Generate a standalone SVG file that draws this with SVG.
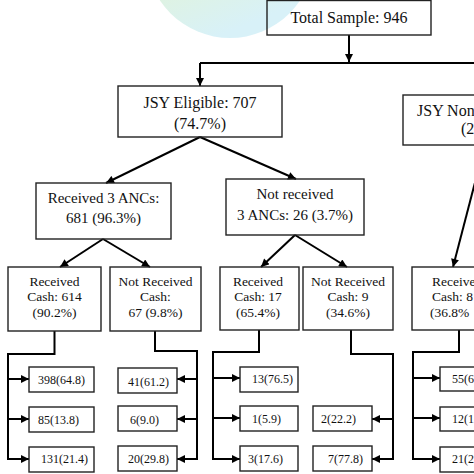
<svg xmlns="http://www.w3.org/2000/svg" width="474" height="474" viewBox="0 0 474 474" font-family="'Liberation Serif', 'DejaVu Serif', serif">
<defs>
<linearGradient id="blob" x1="0" y1="0" x2="0.4" y2="1">
<stop offset="0" stop-color="#f1f8d2"/>
<stop offset="0.5" stop-color="#e2f4d6"/>
<stop offset="1" stop-color="#d8f1f8"/>
</linearGradient>
<marker id="ah" viewBox="0 0 10 10" refX="10" refY="5" markerWidth="9" markerHeight="8" markerUnits="userSpaceOnUse" orient="auto">
<path d="M0,0 L10,5 L0,10 z" fill="#000"/>
</marker>
</defs>
<style>
.box{fill:none;stroke:#222;stroke-width:1.4}
.c{fill:none;stroke:#000;stroke-width:2}
.a{marker-end:url(#ah)}
text{font-family:'Liberation Serif','DejaVu Serif',serif;fill:#111}
.t1{font-size:16px;text-anchor:middle}
.t2{font-size:15px;text-anchor:middle}
.t3{font-size:13.5px;text-anchor:middle}
.t3s{font-size:13.5px}
.t4{font-size:12px}
</style>
<rect width="474" height="474" fill="#fff"/>
<circle cx="230" cy="-46" r="84" fill="url(#blob)"/>

<g id="connectors">
<path class="c a" d="M349,35 V62"/>
<path class="c" d="M200,63 H474"/>
<path class="c a" d="M200,63 V86"/>
<path class="c a" d="M200,137 L106,183"/>
<path class="c a" d="M200,137 L296,179"/>
<path class="c a" d="M103,239 L60,267"/>
<path class="c a" d="M103,239 L150,267"/>
<path class="c a" d="M295,235 L261,267"/>
<path class="c a" d="M295,235 L347,267"/>
<path class="c a" d="M486,140 L453,267"/>
<path class="c a" d="M54.5,331 V354 H8 V459 H29"/>
<path class="c a" d="M8,379 H29"/>
<path class="c a" d="M8,419 H29"/>
<path class="c a" d="M155,331 V351 H197 V459 H177"/>
<path class="c a" d="M197,379 H177"/>
<path class="c a" d="M197,419 H177"/>
<path class="c a" d="M259,330 V352 H213 V459 H240"/>
<path class="c a" d="M213,378 H240"/>
<path class="c a" d="M213,418 H240"/>
<path class="c a" d="M351,330 V354 H393 V459 H372"/>
<path class="c a" d="M393,419 H372"/>
<path class="c a" d="M459,330 V352 H413 V459 H440"/>
<path class="c a" d="M413,378 H440"/>
<path class="c a" d="M413,418 H440"/>
</g>

<g id="total"><rect class="box" x="267" y="0.5" width="164" height="34.5"/><text class="t1" x="349" y="23">Total Sample: 946</text></g>
<g id="eligible"><rect class="box" x="118" y="86" width="164" height="51"/><text class="t1" x="200" y="108">JSY Eligible: 707</text><text class="t1" x="200" y="129">(74.7%)</text></g>
<g id="noneligible"><rect class="box" x="403" y="95" width="100" height="50"/><text font-size="16" x="417" y="116">JSY Non</text><text font-size="16" x="461" y="134">(2</text></g>
<g id="anc3"><rect class="box" x="36" y="183" width="135" height="56"/><text class="t2" x="103.5" y="203">Received 3 ANCs:</text><text class="t2" x="103.5" y="223">681 (96.3%)</text></g>
<g id="noanc3"><rect class="box" x="226" y="179" width="138" height="56"/><text class="t2" x="295" y="199">Not received</text><text class="t2" x="295" y="220">3 ANCs: 26 (3.7%)</text></g>
<g id="rc614"><rect class="box" x="8" y="267" width="93" height="64"/><text class="t3" x="54.5" y="286">Received</text><text class="t3" x="54.5" y="301">Cash: 614</text><text class="t3" x="54.5" y="317">(90.2%)</text></g>
<g id="nrc67"><rect class="box" x="110" y="267" width="91" height="64"/><text class="t3" x="155.5" y="286">Not Received</text><text class="t3" x="155.5" y="301">Cash:</text><text class="t3" x="155.5" y="317">67 (9.8%)</text></g>
<g id="rc17"><rect class="box" x="220" y="267" width="79" height="63"/><text class="t3" x="258" y="286">Received</text><text class="t3" x="258" y="301">Cash: 17</text><text class="t3" x="258" y="317">(65.4%)</text></g>
<g id="nrc9"><rect class="box" x="303" y="267" width="90" height="63"/><text class="t3" x="348" y="286">Not Received</text><text class="t3" x="348" y="301">Cash: 9</text><text class="t3" x="348" y="317">(34.6%)</text></g>
<g id="rc88"><rect class="box" x="412" y="267" width="95" height="63"/><text class="t3s" x="432" y="286">Receive</text><text class="t3s" x="432" y="301">Cash: 8</text><text class="t3s" x="430" y="317">(36.8%</text></g>

<g id="a1"><rect class="box" x="29" y="367" width="65" height="25"/><text class="t4" x="38" y="384">398(64.8)</text></g>
<g id="a2"><rect class="box" x="29" y="407" width="65" height="25"/><text class="t4" x="38" y="424">85(13.8)</text></g>
<g id="a3"><rect class="box" x="29" y="447" width="65" height="25"/><text class="t4" x="41" y="463">131(21.4)</text></g>
<g id="b1"><rect class="box" x="118" y="368" width="59" height="25"/><text class="t4" x="128" y="386">41(61.2)</text></g>
<g id="b2"><rect class="box" x="118" y="406" width="59" height="25"/><text class="t4" x="130" y="424">6(9.0)</text></g>
<g id="b3"><rect class="box" x="118" y="446" width="59" height="25"/><text class="t4" x="128" y="463">20(29.8)</text></g>
<g id="c1"><rect class="box" x="240" y="367" width="58" height="25"/><text class="t4" x="252" y="383">13(76.5)</text></g>
<g id="c2"><rect class="box" x="240" y="406" width="58" height="25"/><text class="t4" x="252" y="423">1(5.9)</text></g>
<g id="c3"><rect class="box" x="240" y="446" width="58" height="25"/><text class="t4" x="248" y="463">3(17.6)</text></g>
<g id="d2"><rect class="box" x="313" y="406" width="59" height="25"/><text class="t4" x="321" y="423">2(22.2)</text></g>
<g id="d3"><rect class="box" x="313" y="446" width="59" height="25"/><text class="t4" x="328" y="463">7(77.8)</text></g>
<g id="e1"><rect class="box" x="440" y="367" width="60" height="24"/><text class="t4" x="452" y="383">55(6</text></g>
<g id="e2"><rect class="box" x="440" y="407" width="60" height="24"/><text class="t4" x="452" y="423">12(1</text></g>
<g id="e3"><rect class="box" x="440" y="447" width="60" height="25"/><text class="t4" x="452" y="463">21(2</text></g>
</svg>
